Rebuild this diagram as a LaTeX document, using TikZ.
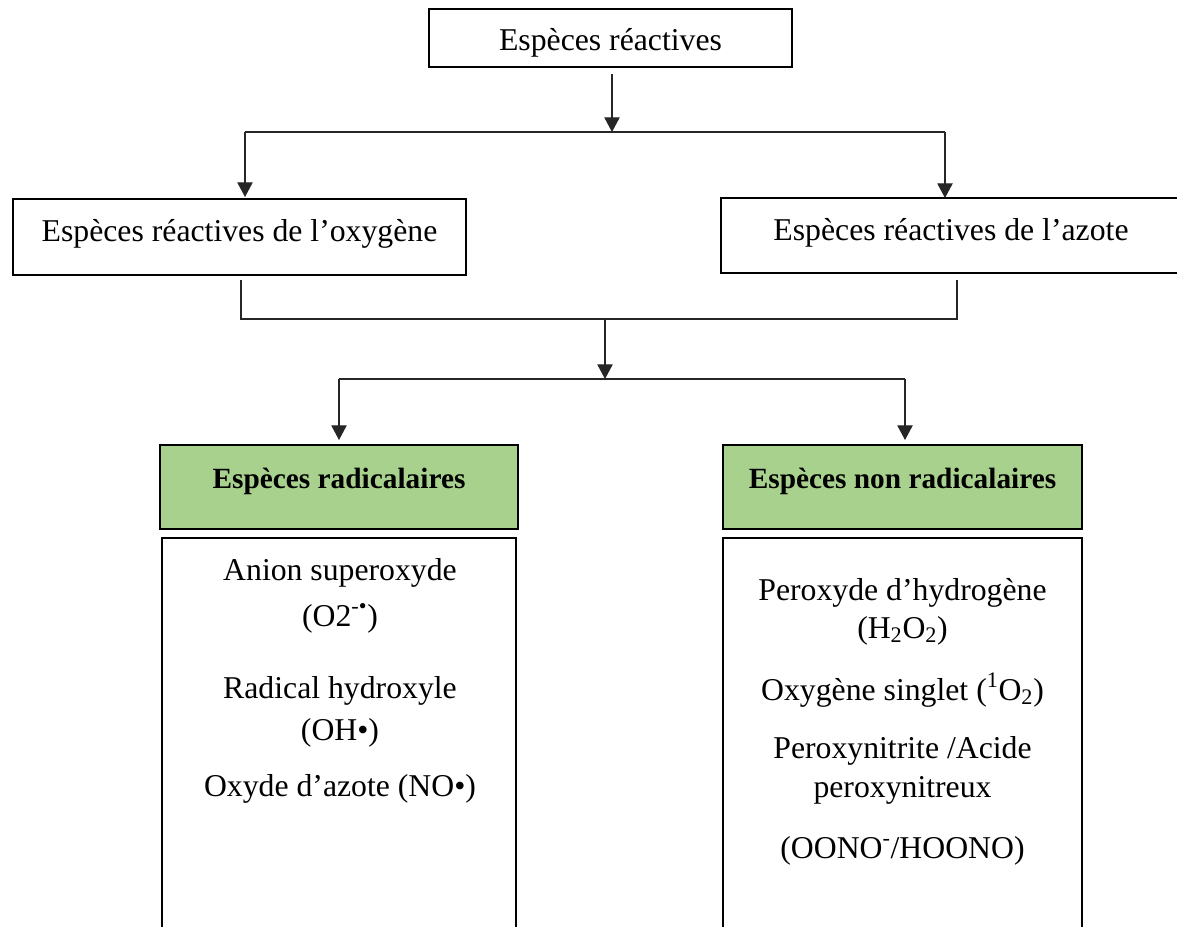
\documentclass[tikz,border=0pt]{standalone}
\usepackage{fontspec}
\setmainfont{Liberation Serif}
\usetikzlibrary{arrows.meta}
\definecolor{boxgreen}{HTML}{A9D18E}
\newlength\pxu
\setlength\pxu{0.75pt}
\begin{document}
\begin{tikzpicture}[x=0.75pt,y=-0.75pt,
  box/.style={draw=black, line width=2pt, inner sep=0pt},
  greenbox/.style={box, fill=boxgreen},
  txt/.style={font=\fontsize{23.8}{27.4}\selectfont, inner sep=0pt, anchor=base},
  btxt/.style={font=\fontsize{22}{26}\selectfont\bfseries, inner sep=0pt, anchor=base},
  conn/.style={line width=0.9pt, draw=black!85},
  arr/.style={conn, -{Triangle[width=11.5pt,length=11pt]}}]
\useasboundingbox (0,0) rectangle (1177,926);
\clip (0,0) rectangle (1177,926);

% boxes
\node[box, minimum width=363\pxu, minimum height=58\pxu] (top) at (610.5,38) {};
\node[box, minimum width=453\pxu, minimum height=76\pxu] (ros) at (239.5,237) {};
\node[box, minimum width=460\pxu, minimum height=75\pxu] (rns) at (951,235.5) {};
\node[greenbox, minimum width=358\pxu, minimum height=84\pxu] (rad) at (339,487) {};
\node[greenbox, minimum width=359\pxu, minimum height=84\pxu] (nrad) at (902.5,487) {};
\node[box, minimum width=354\pxu, minimum height=422\pxu] (radlist) at (339,749) {};
\node[box, minimum width=359\pxu, minimum height=422\pxu] (nradlist) at (902.5,749) {};

% texts
\node[txt] (topt) at (610.5,50) {Espèces réactives};
\node[txt] (rost) at (239.5,241) {Espèces réactives de l’oxygène};
\node[txt] (rnst) at (951,240) {Espèces réactives de l’azote};
\node[btxt] (radt) at (339,488) {Espèces radicalaires};
\node[btxt] (nradt) at (902.5,488) {Espèces non radicalaires};

\node[txt] (r1) at (340,580) {Anion superoxyde};
\node[txt] (r2) at (340,626) {(O2\textsuperscript{-•})};
\node[txt] (r3) at (340,698) {Radical hydroxyle};
\node[txt] (r4) at (340,740) {(OH•)};
\node[txt] (r5) at (340,796) {Oxyde d’azote (NO•)};

\node[txt] (n1) at (902.5,600) {Peroxyde d’hydrogène};
\node[txt] (n2) at (902.5,638) {(H\textsubscript{2}O\textsubscript{2})};
\node[txt] (n3) at (902.5,700) {Oxygène singlet (\textsuperscript{1}O\textsubscript{2})};
\node[txt] (n4) at (902.5,758) {Peroxynitrite /Acide};
\node[txt] (n5) at (902.5,797) {peroxynitreux};
\node[txt] (n6) at (902.5,858) {(OONO\textsuperscript{-}/HOONO)};

% junction coordinates
\coordinate (a1s) at (612,74);
\coordinate (j1) at (612,132);
\coordinate (j1l) at (245,132);
\coordinate (j1r) at (945,132);
\coordinate (rosin) at (245,197);
\coordinate (rnsin) at (945,198);
\coordinate (rosout) at (241,280);
\coordinate (rnsout) at (957,280);
\coordinate (j2l) at (241,319);
\coordinate (j2r) at (957,319);
\coordinate (j2) at (605,319);
\coordinate (j3) at (605,379);
\coordinate (j3l) at (339,379);
\coordinate (j3r) at (905,379);
\coordinate (radin) at (339,440);
\coordinate (nradin) at (905,440);

% connectors
\draw[arr] (a1s) -- (j1);
\draw[conn] (j1l) -- (j1r);
\draw[arr] (j1l) -- (rosin);
\draw[arr] (j1r) -- (rnsin);
\draw[conn] (rosout) -- (j2l) -- (j2r) -- (rnsout);
\draw[arr] (j2) -- (j3);
\draw[conn] (j3l) -- (j3r);
\draw[arr] (j3l) -- (radin);
\draw[arr] (j3r) -- (nradin);
\end{tikzpicture}
\end{document}
